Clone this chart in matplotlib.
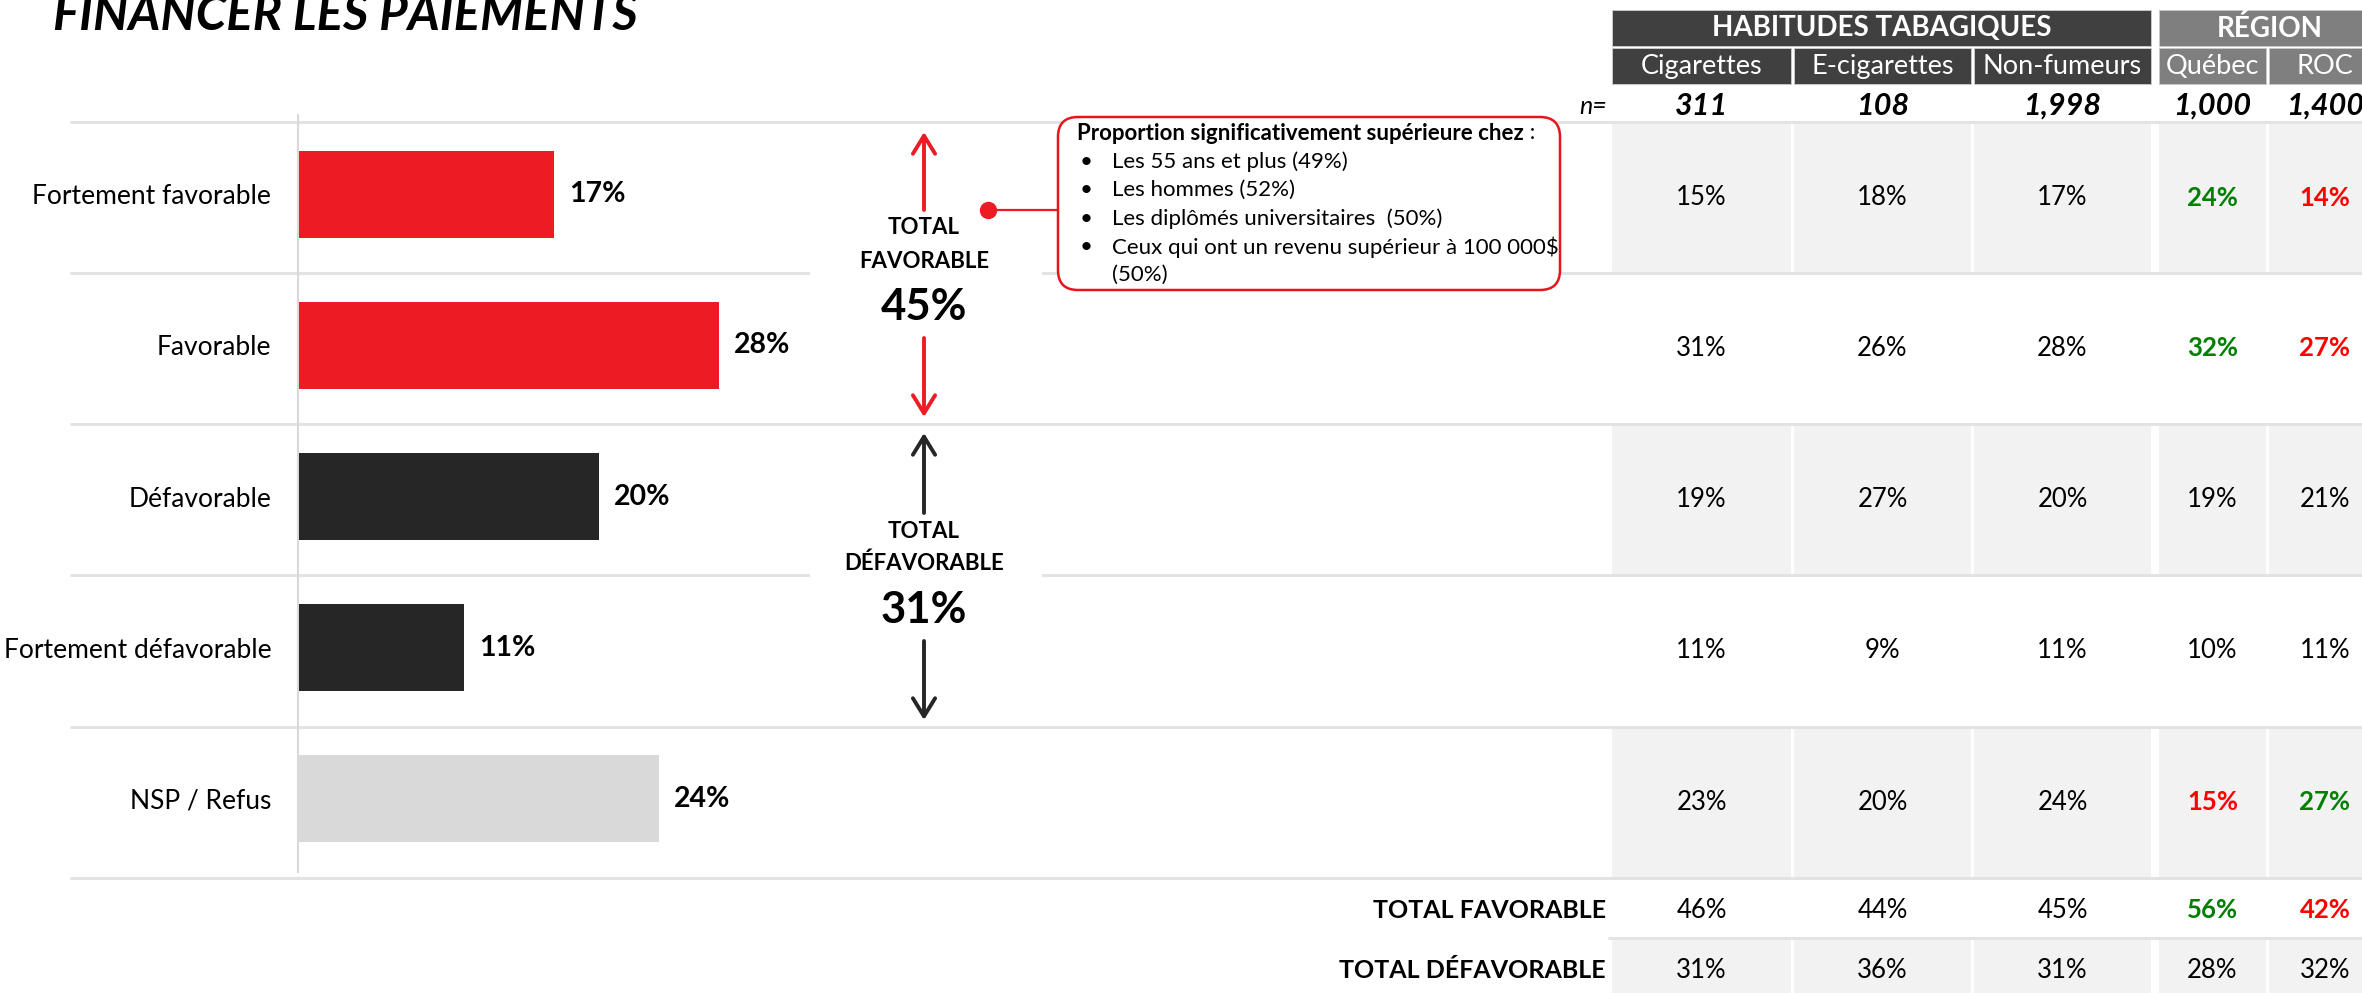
import matplotlib
matplotlib.use("Agg")
import matplotlib.pyplot as plt
from matplotlib.patches import Rectangle, FancyBboxPatch, FancyArrowPatch, ArrowStyle

plt.rcParams['font.family'] = ['Lato', 'DejaVu Sans']

# ---------------- data ----------------
title = "FINANCER LES PAIEMENTS"
categories = ["Fortement favorable", "Favorable", "Défavorable",
              "Fortement défavorable", "NSP / Refus"]
values = [17, 28, 20, 11, 24]
total_fav = 45
total_def = 31

callout_title = "Proportion significativement supérieure chez"
callout_items = ["Les 55 ans et plus (49%)", "Les hommes (52%)",
                 "Les diplômés universitaires  (50%)",
                 "Ceux qui ont un revenu supérieur à 100 000$\n(50%)"]

group_headers = ["HABITUDES TABAGIQUES", "RÉGION"]
columns = ["Cigarettes", "E-cigarettes", "Non-fumeurs", "Québec", "ROC"]
n_sizes = ["311", "108", "1,998", "1,000", "1,400"]
table_rows = [[15, 18, 17, 24, 14],
              [31, 26, 28, 32, 27],
              [19, 27, 20, 19, 21],
              [11, 9, 11, 10, 11],
              [23, 20, 24, 15, 27]]
table_sig = [["", "", "", "g", "r"],
             ["", "", "", "g", "r"],
             ["", "", "", "", ""],
             ["", "", "", "", ""],
             ["", "", "", "r", "g"]]
total_labels = ["TOTAL FAVORABLE", "TOTAL DÉFAVORABLE"]
total_rows = [[46, 44, 45, 56, 42],
              [31, 36, 31, 28, 32]]
total_sig = [["", "", "", "g", "r"],
             ["", "", "", "", ""]]

# ---------------- styles / layout ----------------
RED = '#ED1C24'
DARK = '#262626'
LIGHT = '#D9D9D9'
bar_colors = [RED, RED, DARK, DARK, LIGHT]
SIG = {"": "black", "g": "#008000", "r": "#FF0000"}
LINE = '#E3E3E3'
CELL = '#F2F2F2'
HDR_DARK = '#404040'
HDR_GRAY = '#7F7F7F'

W, H = 2362, 993
fig = plt.figure(figsize=(W / 100, H / 100), dpi=100)
fig.patch.set_facecolor('white')

ax0 = fig.add_axes([0, 0, 1, 1])
ax0.set_xlim(0, W)
ax0.set_ylim(H, 0)
ax0.axis('off')

row_lines = [122, 273, 424, 575, 727, 878]
row_centers = [(row_lines[i] + row_lines[i + 1]) / 2 for i in range(5)]

# title
ax0.text(53, 30, title, fontsize=35.5, fontweight='bold', style='italic',
         ha='left', va='baseline', color='black')

# horizontal separators
ax0.hlines(row_lines, 70, W, color=LINE, lw=2.2, zorder=1)
ax0.hlines([938], 1608, W, color=LINE, lw=2.2, zorder=1)
# vertical axis line
ax0.vlines([298], 114, 873, color=LIGHT, lw=1.5, zorder=2)

# ---------------- bars ----------------
px_per_pct = 15.0
x_max = 40
bar_left = 299
axb = fig.add_axes([bar_left / W, (H - row_lines[-1]) / H,
                    px_per_pct * x_max / W, (row_lines[-1] - row_lines[0]) / H])
axb.patch.set_alpha(0)
axb.set_xlim(0, x_max)
off = 0.023
axb.set_ylim(len(categories) - 0.5 + off, -0.5 + off)
ypos = list(range(len(categories)))
axb.barh(ypos, values, height=0.575, color=bar_colors, zorder=3)
for sp in axb.spines.values():
    sp.set_visible(False)
axb.set_xticks([])
axb.set_yticks(ypos)
axb.set_yticklabels(categories, fontsize=19)
axb.tick_params(axis='y', length=0, pad=20)
for y, v in zip(ypos, values):
    axb.annotate(f"{v}%", (v, y), xytext=(11, 0), textcoords='offset points',
                 ha='left', va='center', fontsize=20.5, fontweight='bold')

# ---------------- middle totals ----------------
xm = 924
ax0.add_patch(Rectangle((810, 225), 232, 95, fc='white', ec='none', zorder=2))
ax0.add_patch(Rectangle((810, 527), 232, 95, fc='white', ec='none', zorder=2))
arrow_st = ArrowStyle('->', head_length=13, head_width=8)
for (y0, y1, c) in [(210, 132, RED), (338, 417, RED), (513, 433, DARK), (641, 720, DARK)]:
    ax0.add_patch(FancyArrowPatch((xm, y0), (xm, y1), arrowstyle=arrow_st,
                                  mutation_scale=1, lw=2.8, color=c,
                                  shrinkA=0, shrinkB=0, zorder=4))
ax0.text(xm, 228, "TOTAL", ha='center', va='center', fontsize=16, fontweight='bold', zorder=5)
ax0.text(xm, 262, "FAVORABLE", ha='center', va='center', fontsize=16, fontweight='bold', zorder=5)
ax0.text(xm, 307, f"{total_fav}%", ha='center', va='center', fontsize=31.5, fontweight='bold', zorder=5)
ax0.text(xm, 532, "TOTAL", ha='center', va='center', fontsize=16, fontweight='bold', zorder=5)
ax0.text(xm, 563, "DÉFAVORABLE", ha='center', va='center', fontsize=16, fontweight='bold', zorder=5)
ax0.text(xm, 610, f"{total_def}%", ha='center', va='center', fontsize=31.5, fontweight='bold', zorder=5)

# ---------------- callout ----------------
ax0.plot([988, 1058], [210, 210], color=RED, lw=1.6, zorder=4)
ax0.plot([988], [210], 'o', ms=11.5, color=RED, zorder=5)
ax0.add_patch(FancyBboxPatch((1058, 117), 502, 173,
                             boxstyle='round,pad=0,rounding_size=20',
                             fc='white', ec='#E8141C', lw=1.8, zorder=4))
cfs = 16
t0 = ax0.text(1077, 133, callout_title, ha='left', va='center', fontsize=cfs,
              fontweight='bold', zorder=5)
ax0.annotate(" :", xy=(1, 0.5), xycoords=t0, ha='left', va='center', fontsize=cfs, zorder=5)
yl = 162
for item in callout_items:
    parts = item.split("\n")
    ax0.text(1080, yl, "•", ha='left', va='center', fontsize=cfs, zorder=5)
    for p in parts:
        ax0.text(1112, yl, p, ha='left', va='center', fontsize=cfs, zorder=5)
        yl += 28.3

# ---------------- table ----------------
col_x0 = [1612, 1794, 1974, 2159, 2269]
col_x1 = [1791, 1971, 2151, 2266, 2381]
col_c = [(a + b) / 2 for a, b in zip(col_x0, col_x1)]
hdr_colors = [HDR_DARK, HDR_DARK, HDR_DARK, HDR_GRAY, HDR_GRAY]
group_span = [(1612, 2151, HDR_DARK), (2159, 2381, HDR_GRAY)]

for (g, (a, b, c)) in zip(group_headers, group_span):
    ax0.add_patch(Rectangle((a, 10), b - a, 36, fc=c, ec='#C8C8C8', lw=0.7, zorder=3))
    ax0.text((a + b) / 2, 28.5, g, ha='center', va='center', color='white',
             fontsize=20, fontweight='bold', zorder=4)
for name, a, b, c in zip(columns, col_x0, col_x1, hdr_colors):
    ax0.add_patch(Rectangle((a, 48), b - a, 36, fc=c, ec='#C8C8C8', lw=0.7, zorder=3))
    ax0.text((a + b) / 2, 66.5, name, ha='center', va='center', color='white',
             fontsize=19.5, zorder=4)

ax0.text(1607, 106, "n=", ha='right', va='center', fontsize=18, style='italic')
for n, x in zip(n_sizes, col_c):
    ax0.text(x, 106, n, ha='center', va='center', fontsize=22,
             fontweight='bold', style='italic')

for i, (row, sig) in enumerate(zip(table_rows, table_sig)):
    y0, y1 = row_lines[i], row_lines[i + 1]
    if i % 2 == 0:
        for a, b in zip(col_x0, col_x1):
            ax0.add_patch(Rectangle((a, y0 + 2), b - a, y1 - y0 - 3.5,
                                    fc=CELL, ec='none', zorder=0.5))
    for v, s, x in zip(row, sig, col_c):
        ax0.text(x, row_centers[i], f"{v}%", ha='center', va='center',
                 fontsize=18.5, color=SIG[s],
                 fontweight='bold' if s else 'normal', zorder=4)

total_y = [910, 970]
total_span = [(880, 936), (940, 1000)]
for k, (lab, row, sig) in enumerate(zip(total_labels, total_rows, total_sig)):
    if k == 1:
        a0, a1 = total_span[k]
        for a, b in zip(col_x0, col_x1):
            ax0.add_patch(Rectangle((a, a0), b - a, a1 - a0, fc=CELL, ec='none', zorder=0.5))
    ax0.text(1606, total_y[k], lab, ha='right', va='center', fontsize=18,
             fontweight='bold', zorder=4)
    for v, s, x in zip(row, sig, col_c):
        ax0.text(x, total_y[k], f"{v}%", ha='center', va='center',
                 fontsize=18.5, color=SIG[s],
                 fontweight='bold' if s else 'normal', zorder=4)

fig.savefig("out.png", dpi=100, facecolor='white')
